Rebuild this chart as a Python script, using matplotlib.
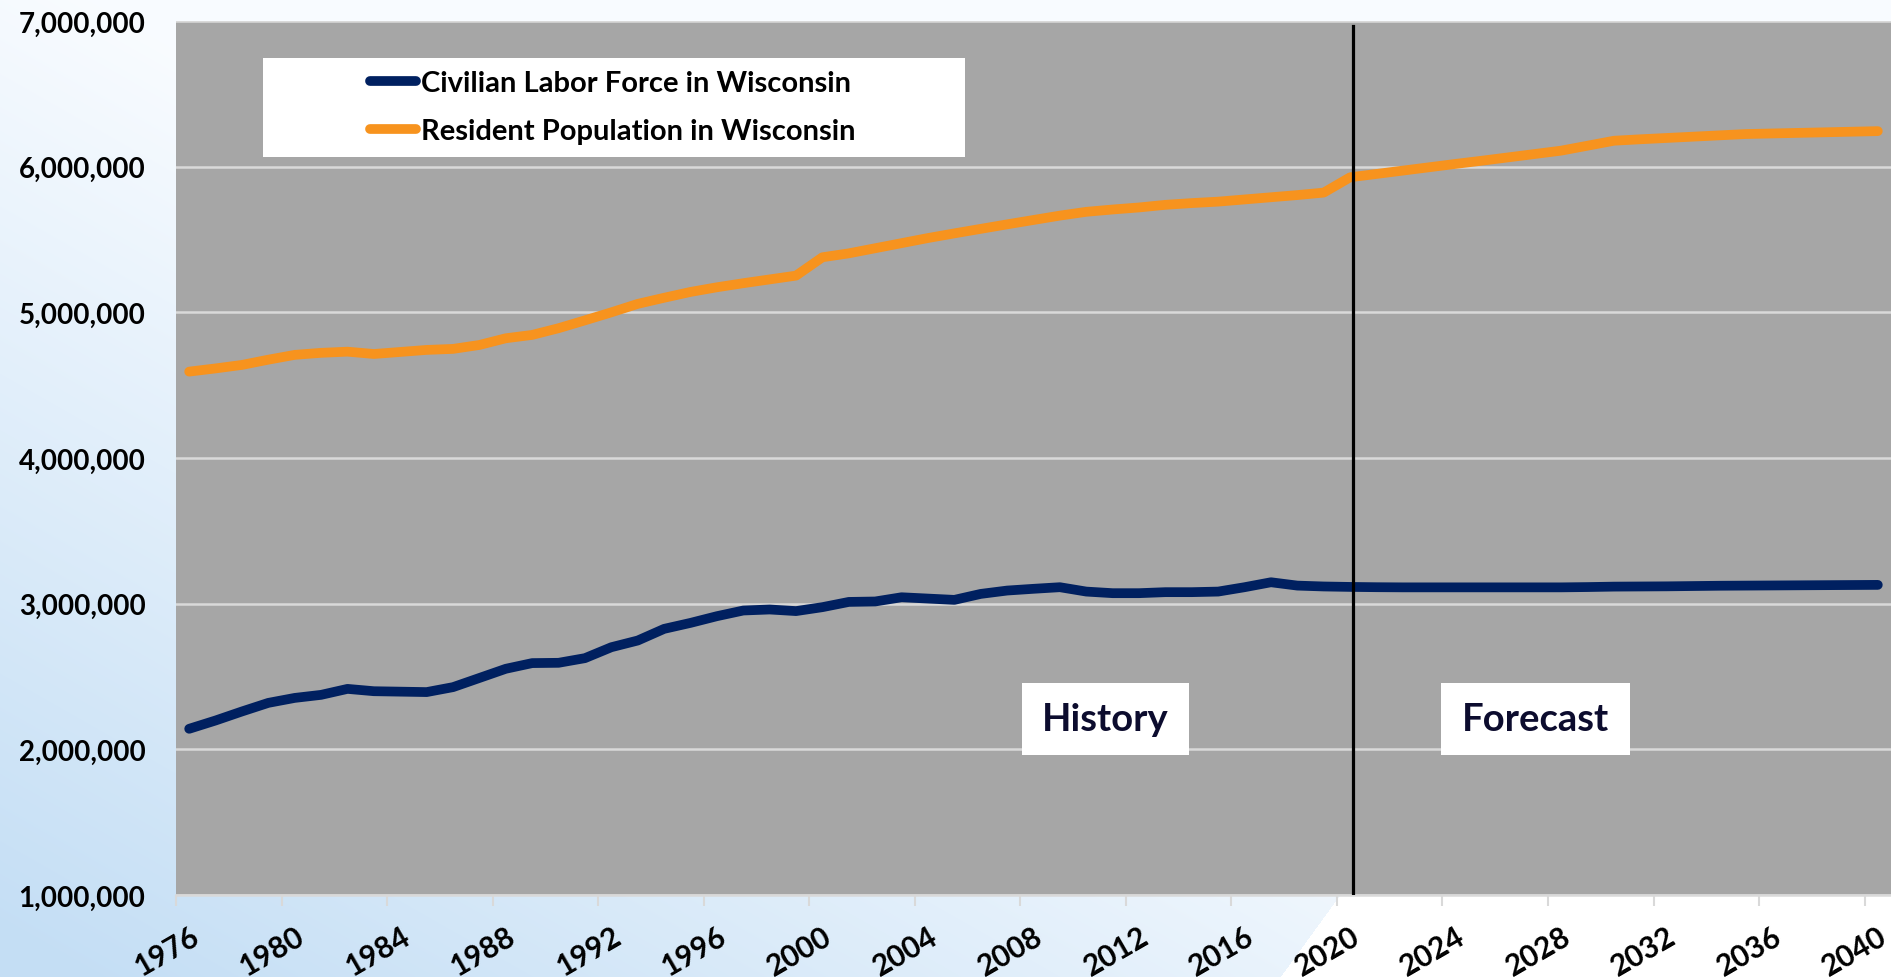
import numpy as np
import matplotlib
matplotlib.use("Agg")
import matplotlib.pyplot as plt
from matplotlib.patches import Rectangle
from matplotlib.ticker import FuncFormatter, FixedLocator

# ---------------- data ----------------
years = list(range(1976, 2041))

population = [
    4593000, 4615000, 4639000, 4675000, 4708000, 4722000, 4730000, 4714000,
    4728000, 4742000, 4749000, 4776000, 4822000, 4845000, 4891000, 4945000,
    5000000, 5058000, 5100000, 5140000, 5172000, 5200000, 5226000, 5252000,
    5378000, 5405000, 5440000, 5475000, 5510000, 5542000, 5573000, 5604000,
    5634000, 5664000, 5690000, 5706000, 5720000, 5738000, 5750000, 5760000,
    5775000, 5790000, 5805000, 5822000, 5927000, 5950000, 5973000, 5996000,
    6019000, 6041000, 6064000, 6087000, 6110000, 6144000, 6178000, 6188000,
    6197000, 6206000, 6215000, 6224000, 6228000, 6232000, 6236000, 6240000,
    6244000,
]

labor_force = [
    2141000, 2198000, 2260000, 2319000, 2353000, 2374000, 2415000, 2399000,
    2396000, 2393000, 2427000, 2490000, 2553000, 2592000, 2594000, 2626000,
    2701000, 2747000, 2827000, 2868000, 2914000, 2953000, 2960000, 2949000,
    2976000, 3012000, 3015000, 3044000, 3035000, 3026000, 3067000, 3090000,
    3102000, 3113000, 3083000, 3072000, 3072000, 3079000, 3079000, 3083000,
    3113000, 3147000, 3124000, 3118000, 3115000, 3113000, 3112000, 3112000,
    3112000, 3112000, 3112000, 3112000, 3112000, 3114000, 3117000, 3118000,
    3119000, 3121000, 3123000, 3124000, 3125000, 3126000, 3127000, 3128000,
    3129000,
]

series_labels = ["Civilian Labor Force in Wisconsin", "Resident Population in Wisconsin"]
tick_years = list(range(1976, 2041, 4))
y_ticks = [1000000, 2000000, 3000000, 4000000, 5000000, 6000000, 7000000]
split_year = 2020.1
region_labels = ["History", "Forecast"]

# ---------------- style ----------------
FONT = "Lato"
NAVY = "#002060"
ORANGE = "#F7931E"
PLOT_BG = "#A6A6A6"
GRID = "#D9D9D9"
TXT_DARK = "#0C0C2E"

W, H = 1891, 978
fig = plt.figure(figsize=(W / 100, H / 100), dpi=100)
fig.patch.set_facecolor("white")

# background gradient
yy, xx = np.mgrid[0:H, 0:W]
t = np.clip(yy / H - 1.1 * xx / W + 0.05, 0, 1)
c_light = np.array([0.975, 0.987, 1.0])
c_blue = np.array([0.770, 0.872, 0.960])
img = c_light + (c_blue - c_light) * t[..., None]
cut = xx > 1339 + (897 - yy) * 0.728
img[cut] = 1.0
fig.figimage(img, xo=0, yo=0, origin="upper", zorder=-10)

ax = fig.add_axes([176 / W, (H - 896) / H, (W - 176) / W, (896 - 22) / H])
ax.set_facecolor(PLOT_BG)

l1, = ax.plot(years, labor_force, color=NAVY, lw=7, solid_capstyle="round",
              solid_joinstyle="round", zorder=3)
l2, = ax.plot(years, population, color=ORANGE, lw=7, solid_capstyle="round",
              solid_joinstyle="round", zorder=3)

ax.set_xlim(years[0] - 0.5, years[-1] + 0.5)
ax.set_ylim(y_ticks[0], y_ticks[-1])

ax.axvline(split_year, ymin=0, ymax=0.9943, color="black", lw=2.3, zorder=4)

# y axis
ax.yaxis.set_major_locator(FixedLocator(y_ticks))
ax.yaxis.set_major_formatter(FuncFormatter(lambda v, p: f"{int(v):,}"))
ax.tick_params(axis="y", length=0, pad=22, labelsize=20)
ax.yaxis.grid(True, color=GRID, lw=1.8, zorder=1)
ax.set_axisbelow(True)

# x axis
ax.xaxis.set_major_locator(FixedLocator(tick_years))
ax.xaxis.set_minor_locator(FixedLocator([y - 0.5 for y in tick_years]))
ax.tick_params(axis="x", which="major", length=0, pad=19, labelsize=21.5)
ax.tick_params(axis="x", which="minor", length=8, width=1.5, color=GRID, direction="out")
for lab in ax.get_xticklabels():
    lab.set_rotation(30)
    lab.set_ha("right")
    lab.set_va("top")
    lab.set_rotation_mode("anchor")

for lab in ax.get_xticklabels() + ax.get_yticklabels():
    lab.set_fontfamily(FONT)
    lab.set_fontweight("bold")
    lab.set_color("black")

for s in ["top", "left", "right"]:
    ax.spines[s].set_visible(False)
ax.spines["bottom"].set_color(GRID)
ax.spines["bottom"].set_linewidth(1.8)

# legend box
ax.add_patch(Rectangle((0.0507, 0.8444), 0.4094, 0.1133, transform=ax.transAxes,
                       facecolor="white", edgecolor="none", zorder=5))
leg = ax.legend([l1, l2], series_labels, loc="center left",
                bbox_to_anchor=(0.1130, 0.9016), frameon=False,
                prop={"family": FONT, "weight": "bold", "size": 21},
                handlelength=1.6, handletextpad=0.15, labelspacing=0.75,
                borderpad=0, borderaxespad=0)
leg.set_zorder(6)
for h in leg.get_lines():
    h.set_linewidth(7)
    h.set_solid_capstyle("round")

# History / Forecast boxes
boxes = [(0.4933, 0.0971), (0.7376, 0.1102)]
for (x0, w), txt in zip(boxes, region_labels):
    ax.add_patch(Rectangle((x0, 0.1602), w, 0.0824, transform=ax.transAxes,
                           facecolor="white", edgecolor="none", zorder=5))
    ax.text(x0 + w / 2, 0.1602 + 0.0824 / 2, txt, transform=ax.transAxes,
            ha="center", va="center", fontsize=27.5, fontweight="bold",
            family=FONT, color=TXT_DARK, zorder=6)

fig.savefig("out.png", dpi=100)
